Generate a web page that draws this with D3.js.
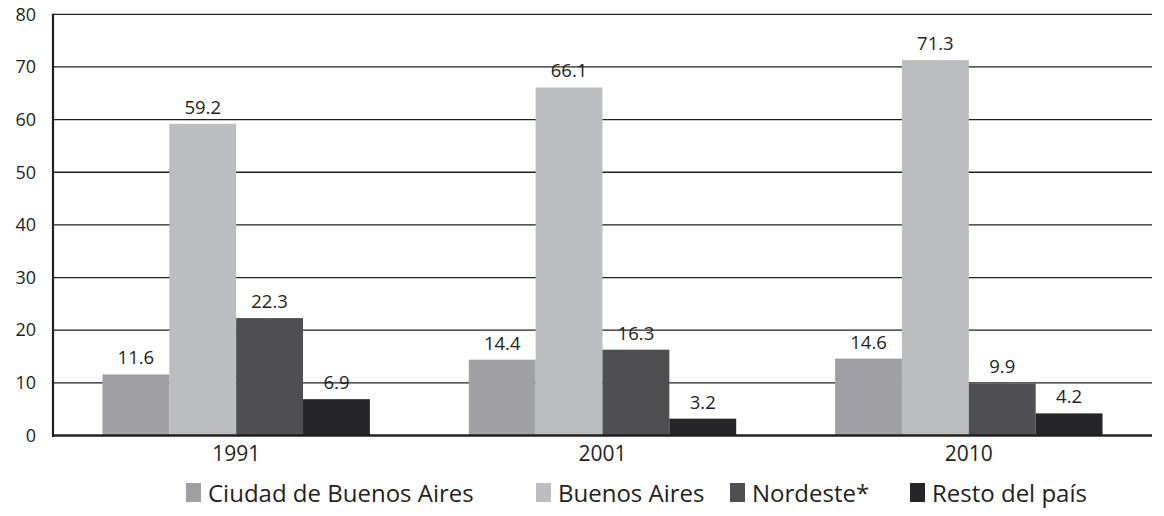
<!DOCTYPE html>
<html>
<head>
<meta charset="utf-8">
<script src="https://cdn.jsdelivr.net/npm/d3@7"></script>
<style>
  body { margin: 0; background: #fff; }
  svg text { font-family: "Open Sans", "Noto Sans", sans-serif; fill: #231f20; }
</style>
</head>
<body>
<svg id="chart" width="1164" height="516"></svg>
<script>
// data
var years = ["1991", "2001", "2010"];
var series = ["Ciudad de Buenos Aires", "Buenos Aires", "Nordeste*", "Resto del país"];
var ciudad = [11.6, 14.4, 14.6];
var buenosAires = [59.2, 66.1, 71.3];
var nordeste = [22.3, 16.3, 9.9];
var resto = [6.9, 3.2, 4.2];
var yTicks = [0, 10, 20, 30, 40, 50, 60, 70, 80];
var colors = ["#a09fa4", "#bcbdc0", "#4e4e53", "#262628"];

var values = [ciudad, buenosAires, nordeste, resto];

var svg = d3.select("#chart");
var mLeft = 53, mRight = 1152, mTop = 14.3, mBottom = 435.5;

var x0 = d3.scaleBand().domain(years).range([mLeft, mRight]).paddingInner(0.27).paddingOuter(0.135);
var x1 = d3.scaleBand().domain(d3.range(series.length)).range([0, x0.bandwidth()]);
var y = d3.scaleLinear().domain([0, 80]).range([mBottom, mTop]);

// gridlines
svg.append("g").selectAll("line").data(yTicks.slice(1)).enter().append("line")
	.attr("x1", mLeft).attr("x2", mRight)
	.attr("y1", function(d) {return y(d)}).attr("y2", function(d) {return y(d)})
	.attr("stroke", "#231f20").attr("stroke-width", 1.3);

// y tick labels
var yAxis = svg.append("g").attr("transform", "translate(" + mLeft + ",0)")
	.call(d3.axisLeft(y).tickValues(yTicks).tickSize(0).tickPadding(17));
yAxis.select(".domain").remove();
yAxis.selectAll("text").attr("font-size", 18).attr("fill", "#231f20")
	.style("font-family", "'Open Sans', sans-serif");

// bars
var groups = svg.append("g").selectAll("g").data(years).enter().append("g")
	.attr("transform", function(d) {return "translate(" + x0(d) + ",0)"});

groups.selectAll("rect").data(function(d, i) {
		return values.map(function(v, s) {return {s: s, v: v[i]}});
	}).enter().append("rect")
	.attr("x", function(d) {return x1(d.s)})
	.attr("width", x1.bandwidth())
	.attr("y", function(d) {return y(d.v)})
	.attr("height", function(d) {return y(0) - y(d.v)})
	.attr("fill", function(d) {return colors[d.s]});

groups.selectAll("text").data(function(d, i) {
		return values.map(function(v, s) {return {s: s, v: v[i]}});
	}).enter().append("text")
	.attr("x", function(d) {return x1(d.s) + x1.bandwidth() / 2})
	.attr("y", function(d) {return y(d.v) - 10})
	.attr("text-anchor", "middle")
	.attr("font-size", 18.5)
	.text(function(d) {return d.v.toFixed(1)});

// axis lines
svg.append("line").attr("x1", mLeft).attr("x2", mLeft).attr("y1", mTop - 0.6).attr("y2", mBottom + 1.5)
	.attr("stroke", "#231f20").attr("stroke-width", 2.2);

var xAxis = svg.append("g").attr("transform", "translate(0," + mBottom + ")")
	.call(d3.axisBottom(x0).tickSize(0).tickPadding(11));
xAxis.select(".domain").attr("stroke", "#231f20").attr("stroke-width", 2.6)
	.attr("d", "M" + (mLeft - 1) + ",0H" + mRight);
xAxis.selectAll("text").attr("font-size", 21).attr("fill", "#231f20")
	.style("font-family", "'Open Sans', sans-serif");

// legend
var legendX = [186, 536, 730, 910];
var legend = svg.append("g").selectAll("g").data(series).enter().append("g")
	.attr("transform", function(d, i) {return "translate(" + legendX[i] + ",483)"});
legend.append("rect").attr("width", 15).attr("height", 19)
	.attr("fill", function(d, i) {return colors[i]});
legend.append("text").attr("x", 22).attr("y", 19).attr("font-size", 24)
	.text(function(d) {return d});
</script>
</body>
</html>
